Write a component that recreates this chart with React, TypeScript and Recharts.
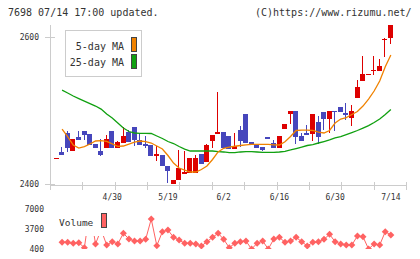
import { ComposedChart, LineChart, Bar, Line, XAxis, YAxis } from "recharts";

const RED = "#dd0000";
const BLUE = "#4646bc";
const ORANGE = "#f08200";
const GREEN = "#10a010";
const VOL = "#ff6262";
const AXIS = "#cccccc";
const TEXT = "#333333";
const MONO = '"DejaVu Sans Mono", monospace';

// session index of each date label on the bottom axis
const tickIdx = [10, 20, 30, 40, 50, 60];
const tickLabels = ["4/30", "5/19", "6/2", "6/16", "6/30", "7/14"];
const priceTicks = [2400, 2600];
const volumeTicks = [400, 3700, 7000];

const opens = [2434, 2444, 2469, 2445, 2464, 2472, 2468, 2454, 2445, 2449, 2472, 2449, 2456, 2471, 2477, 2460, 2454, 2453, 2438, 2439, 2424, 2400, 2405, 2413, 2415, 2415, 2441, 2430, 2458, 2468, 2471, 2465, 2447, 2473, 2495, 2457, 2454, 2450, 2464, 2456, 2449, 2475, 2495, 2499, 2465, 2469, 2468, 2484, 2498, 2488, 2499, 2505, 2496, 2490, 2517, 2540, 2549, 2554, 2554, 2596, 2598];
const highs = [2435, 2450, 2472, 2461, 2472, 2472, 2468, 2454, 2461, 2467, 2472, 2458, 2477, 2473, 2477, 2469, 2465, 2453, 2452, 2439, 2424, 2405, 2446, 2445, 2435, 2439, 2441, 2454, 2467, 2525, 2471, 2465, 2469, 2479, 2495, 2457, 2454, 2450, 2464, 2460, 2465, 2482, 2499, 2499, 2469, 2480, 2495, 2492, 2498, 2499, 2499, 2505, 2510, 2508, 2541, 2574, 2550, 2574, 2570, 2598, 2616];
const lows = [2434, 2440, 2444, 2445, 2460, 2460, 2453, 2449, 2438, 2449, 2449, 2449, 2456, 2457, 2452, 2453, 2449, 2438, 2431, 2424, 2402, 2400, 2405, 2413, 2415, 2415, 2427, 2430, 2449, 2468, 2449, 2447, 2447, 2450, 2456, 2454, 2449, 2445, 2461, 2449, 2449, 2475, 2482, 2454, 2458, 2467, 2458, 2454, 2474, 2469, 2472, 2498, 2487, 2479, 2517, 2540, 2549, 2548, 2554, 2573, 2590];
const closes = [2435, 2440, 2449, 2461, 2460, 2467, 2453, 2449, 2439, 2461, 2449, 2457, 2465, 2457, 2460, 2453, 2452, 2438, 2441, 2424, 2417, 2405, 2422, 2416, 2435, 2435, 2427, 2453, 2467, 2471, 2449, 2447, 2452, 2458, 2456, 2454, 2449, 2446, 2461, 2449, 2465, 2482, 2499, 2464, 2458, 2467, 2495, 2464, 2488, 2499, 2498, 2498, 2494, 2499, 2532, 2549, 2550, 2555, 2560, 2597, 2616];

const ma5 = [null, 2474.7, 2464.5, 2453, 2448.9, 2450.9, 2454.3, 2458.4, 2458.8, 2458, 2454.6, 2451.2, 2451.6, 2454.3, 2456.8, 2458.4, 2457.7, 2455.7, 2451.6, 2447.5, 2438.7, 2428.5, 2421.7, 2419, 2416.3, 2416.3, 2419.7, 2424.4, 2433.3, 2443.5, 2448.5, 2450.2, 2451.3, 2452.3, 2453.2, 2453.9, 2453.9, 2453.9, 2453.9, 2453.2, 2453, 2457.4, 2464.5, 2472.7, 2473.3, 2473.3, 2472.7, 2470.6, 2469.3, 2472.7, 2482.8, 2488.3, 2490.3, 2494.4, 2498.5, 2505.9, 2515.4, 2526.3, 2539.9, 2559.3, 2575.2];
const ma25 = [null, 2527.6, 2523.6, 2519.5, 2516, 2512.7, 2509.3, 2505.9, 2501.8, 2495, 2489.6, 2482.8, 2476, 2471.3, 2469.3, 2468.8, 2468.8, 2468.6, 2465.2, 2461.8, 2457.7, 2455, 2450.9, 2447.5, 2444.8, 2444.8, 2444.8, 2444.8, 2444.8, 2444.1, 2443.5, 2442.5, 2442.5, 2443.5, 2443.9, 2443.9, 2443.5, 2443, 2443, 2443, 2443.5, 2444.4, 2446.2, 2448.2, 2450.2, 2452.3, 2453.6, 2455.7, 2457.7, 2459.8, 2462.5, 2464.5, 2467.2, 2469.9, 2472.7, 2476, 2479.4, 2483.5, 2488.3, 2494.4, 2501.2];
const volumes = [null, 1500, 1500, 1340, 1440, 620, 7000, 1230, 3600, 1060, 1600, 1230, 2990, 2050, 1720, 1720, 2000, 5350, 950, 3250, 3530, 2330, 1880, 1340, 1340, 1230, 900, 1600, 2330, 2990, 2000, 620, 1340, 1600, 1720, 400, 1340, 1720, 400, 2050, 2330, 1500, 1720, 2330, 1600, 900, 1500, 1600, 2000, 2820, 1600, 1230, 1060, 1060, 2540, 2430, 400, 1230, 1060, 3250, 2710];

const rows = opens.map((o, i) => ({
  i,
  o,
  h: highs[i],
  l: lows[i],
  c: closes[i],
  range: [lows[i], highs[i]],
  ma5: ma5[i],
  ma25: ma25[i],
  vol: volumes[i],
}));

const X_DOMAIN: [number, number] = [-1.17, 62.72];
// the bottom axis is cut into 11 equal steps
const markTicks = Array.from({ length: 12 }, (_, k) => X_DOMAIN[0] + (k * (X_DOMAIN[1] - X_DOMAIN[0])) / 11);

function Candle(props: any) {
  const { x, y, width, height, payload } = props;
  if (!payload || x == null || y == null) return null;
  const { o, h, l, c } = payload;
  const k = h > l ? height / (h - l) : 0;
  const at = (v: number) => y + (h - v) * k;
  const color = c >= o ? RED : BLUE;
  const left = Math.round(x + width / 2 - 2.5);
  const top = Math.round(at(Math.max(o, c)));
  const bottom = Math.round(at(Math.min(o, c)));
  const wTop = Math.round(y);
  const wBottom = Math.round(y + height);
  return (
    <g>
      <rect x={left + 2} y={wTop} width={1} height={Math.max(1, wBottom - wTop)} fill={color} />
      <rect x={left} y={top} width={5} height={Math.max(1, bottom - top)} fill={color} />
    </g>
  );
}

function Diamond(props: any) {
  const { cx, cy } = props;
  if (cx == null || cy == null) return null;
  const r = 3.5;
  return <polygon points={`${cx},${cy - r} ${cx + r},${cy} ${cx},${cy + r} ${cx - r},${cy}`} fill={VOL} />;
}

const MarkTick = ({ x, y }: any) => (
  <line x1={Math.round(x) + 0.5} x2={Math.round(x) + 0.5} y1={y - 3} y2={y + 5} stroke={AXIS} />
);

// the date axis sits one pixel below the mark axis
const DateTick = ({ x, y, payload }: any) => (
  <text x={x} y={y + 15.5} textAnchor="middle" fontSize={8} fontFamily={MONO} fill={TEXT}>
    {tickLabels[tickIdx.indexOf(payload.value)]}
  </text>
);

const PriceTick = ({ x, y, payload }: any) => (
  <g>
    <line x1={x - 5} x2={x + 5} y1={Math.round(y) + 0.5} y2={Math.round(y) + 0.5} stroke={AXIS} />
    <text x={x - 11} y={y} dy={3} textAnchor="end" fontSize={8} fontFamily={MONO} fill={TEXT}>
      {payload.value}
    </text>
  </g>
);

const VolumeTick = ({ x, y, payload }: any) => (
  <text x={x - 6} y={y} dy={3} textAnchor="end" fontSize={8} fontFamily={MONO} fill={TEXT}>
    {payload.value}
  </text>
);

export default function App() {
  return (
    <div style={{ position: "absolute", left: 0, top: 0, width: 420, height: 259, background: "#fff" }}>
      <div style={{ position: "absolute", left: 0, top: 0 }}>
        <ComposedChart width={420} height={259} data={rows} margin={{ top: 25, right: 14, bottom: 73, left: 0 }}>
          <XAxis
            xAxisId="marks"
            dataKey="i"
            type="number"
            domain={X_DOMAIN}
            allowDataOverflow
            ticks={markTicks}
            interval={0}
            height={1}
            tickSize={0}
            tickMargin={0}
            tickLine={false}
            tick={MarkTick}
            axisLine={{ stroke: AXIS, shapeRendering: "crispEdges" }}
          />
          <XAxis
            xAxisId="dates"
            dataKey="i"
            type="number"
            domain={X_DOMAIN}
            allowDataOverflow
            ticks={tickIdx}
            interval={0}
            height={1}
            tickSize={0}
            tickMargin={0}
            tickLine={false}
            axisLine={false}
            tick={DateTick}
          />
          <YAxis
            type="number"
            domain={[2400, 2616]}
            allowDataOverflow
            ticks={priceTicks}
            interval={0}
            width={50}
            tickSize={0}
            tickMargin={0}
            tickLine={false}
            tick={PriceTick}
            axisLine={{ stroke: AXIS, shapeRendering: "crispEdges" }}
          />
          <Line xAxisId="dates" dataKey="ma25" stroke={GREEN} strokeWidth={1.3} dot={false} isAnimationActive={false} />
          <Line xAxisId="dates" dataKey="ma5" stroke={ORANGE} strokeWidth={1.3} dot={false} isAnimationActive={false} />
          <Bar xAxisId="marks" dataKey="range" barSize={5} shape={Candle} isAnimationActive={false} />
        </ComposedChart>
      </div>
      <div style={{ position: "absolute", left: 0, top: 0 }}>
        <LineChart width={420} height={259} data={rows} margin={{ top: 209, right: 14, bottom: 10, left: 0 }}>
          <XAxis dataKey="i" type="number" domain={X_DOMAIN} allowDataOverflow hide />
          <YAxis
            type="number"
            domain={[400, 7000]}
            allowDataOverflow
            ticks={volumeTicks}
            interval={0}
            width={50}
            tickSize={0}
            tickMargin={0}
            tickLine={false}
            axisLine={false}
            tick={VolumeTick}
          />
          <Line dataKey="vol" stroke={VOL} strokeWidth={1} dot={<Diamond />} isAnimationActive={false} />
        </LineChart>
      </div>
      <svg width={420} height={259} style={{ position: "absolute", left: 0, top: 0, pointerEvents: "none" }}>
        <g fontFamily={MONO} fontSize={10} fill={TEXT}>
          <text x={8} y={16}>7698 07/14 17:00 updated.</text>
          <text x={255} y={16}>(C)https://www.rizumu.net/</text>
        </g>
        <rect x={65.5} y={30.5} width={76} height={46} fill="#fff" stroke={AXIS} />
        <g fontFamily={MONO} fontSize={10} fill={TEXT} textAnchor="end">
          <text x={124} y={49.5}>5-day MA</text>
          <text x={124} y={66}>25-day MA</text>
        </g>
        <rect x={131.5} y={37.5} width={5} height={14} fill={ORANGE} stroke="#444" />
        <rect x={131.5} y={54.5} width={5} height={14} fill={GREEN} stroke="#444" />
        <rect x={55} y={205} width={57} height={31} fill="#fff" />
        <text x={59} y={226} fontFamily={MONO} fontSize={9.5} fill={TEXT}>Volume</text>
        <rect x={101.5} y={213.5} width={5} height={14} fill={VOL} stroke="#444" />
      </svg>
    </div>
  );
}
